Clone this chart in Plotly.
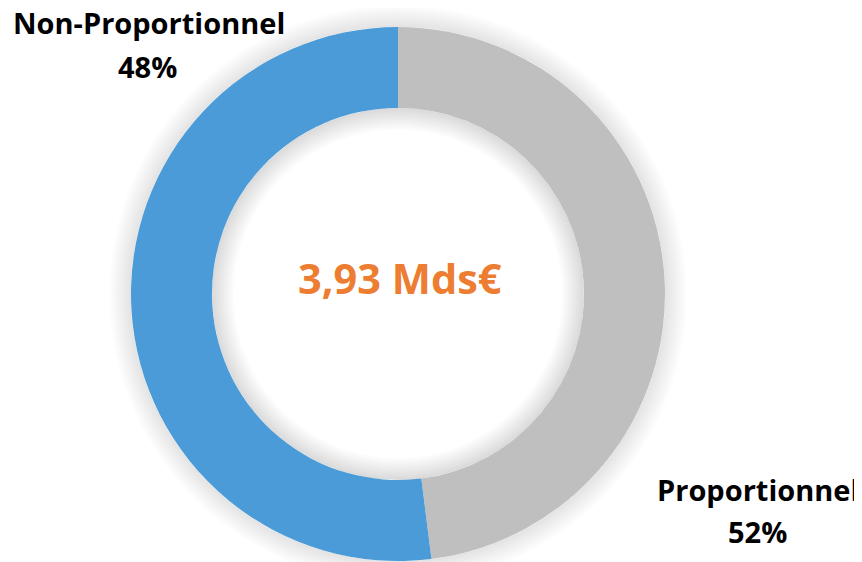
import math
import plotly.graph_objects as go

# ---- data ----
slice_names = ["Proportionnel", "Non-Proportionnel"]
slice_values = [48, 52]                 # angular shares as drawn (grey from 12 o'clock clockwise)
slice_colors = ["#BFBFBF", "#4A9BD7"]
callout_names = ["Proportionnel", "Non-Proportionnel"]
callout_pcts = ["52%", "48%"]           # percentages printed on the chart
total_label = "3,93 Mds€"

# ---- geometry (page pixels; the page body adds an 8px offset) ----
W, H = 862, 562
OFF = 8
cx, cy = 398, 294
R_out, R_in = 267, 186
FONT = "Open Sans"


def px_x(x):
    return (x - OFF) / W


def px_y(y):
    return (H - (y - OFF)) / H


def circle_pts(r, n=160, reverse=False):
    pts = []
    for k in range(n):
        a = 2 * math.pi * k / n
        if reverse:
            a = -a
        pts.append((px_x(cx + r * math.cos(a)), px_y(cy + r * math.sin(a))))
    return pts


def ring_path(r1, r2):
    o = circle_pts(max(r1, r2))
    i = circle_pts(min(r1, r2), reverse=True)
    s = "M " + " L ".join(f"{x:.5f},{y:.5f}" for x, y in o) + " Z "
    s += "M " + " L ".join(f"{x:.5f},{y:.5f}" for x, y in i) + " Z"
    return s


shapes = []
n_layers = 9
step = 2.4
for k in range(n_layers):
    d = (k + 1) * step
    shapes.append(dict(type="path", xref="paper", yref="paper", layer="below",
                       path=ring_path(R_out, R_out + d), fillcolor="rgba(0,0,0,0.012)",
                       line=dict(width=0), fillrule="evenodd"))
    shapes.append(dict(type="path", xref="paper", yref="paper", layer="below",
                       path=ring_path(R_in - d, R_in), fillcolor="rgba(0,0,0,0.014)",
                       line=dict(width=0), fillrule="evenodd"))

fig = go.Figure()
fig.add_trace(go.Pie(
    labels=slice_names,
    values=slice_values,
    marker=dict(colors=slice_colors, line=dict(width=0)),
    hole=R_in / R_out,
    sort=False,
    direction="clockwise",
    rotation=0,
    textinfo="none",
    hoverinfo="skip",
    showlegend=False,
    domain=dict(x=[px_x(cx - R_out), px_x(cx + R_out)],
                y=[px_y(cy + R_out), px_y(cy - R_out)]),
))


def ann(x, y, text, size, color="#000000"):
    return dict(x=px_x(x), y=px_y(y), xref="paper", yref="paper",
                text=f"<b>{text}</b>", showarrow=False,
                font=dict(family=FONT, size=size, color=color),
                xanchor="center", yanchor="middle", align="center")


annotations = [
    ann(400, 278, total_label, 41.5, "#ED7D31"),
    ann(148.5, 23, callout_names[1], 29),
    ann(147, 66, callout_pcts[1], 29),
    ann(758, 489, callout_names[0], 29),
    ann(757, 531, callout_pcts[0], 29),
]

fig.update_layout(
    width=W, height=H,
    margin=dict(l=0, r=0, t=0, b=0),
    paper_bgcolor="white",
    plot_bgcolor="white",
    shapes=shapes,
    annotations=annotations,
)

fig.write_html("out.html")
